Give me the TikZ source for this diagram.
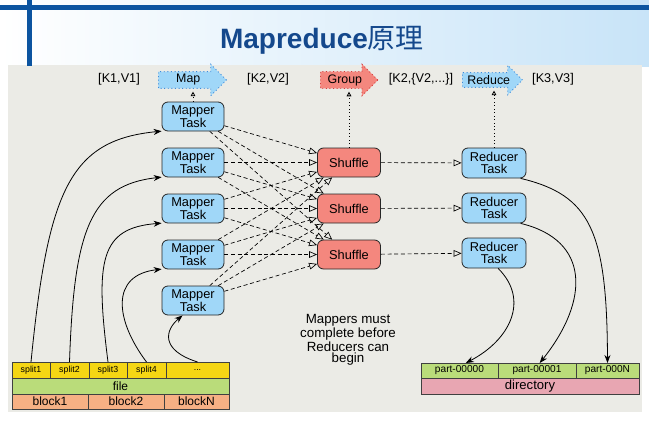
\documentclass[tikz,border=0pt]{standalone}
\usepackage{fontspec}
\setmainfont{Liberation Sans}
\newfontfamily\cjk{Noto Sans CJK SC}
\usepackage{tikz}
\usetikzlibrary{arrows.meta,positioning,shapes.arrows}

\definecolor{panelgray}{RGB}{235,235,230}
\definecolor{taskblue}{RGB}{160,215,248}
\definecolor{shufflered}{RGB}{244,135,126}
\definecolor{splityellow}{RGB}{245,214,20}
\definecolor{filegreen}{RGB}{186,220,122}
\definecolor{blockorange}{RGB}{246,176,132}
\definecolor{dirpink}{RGB}{232,166,178}
\definecolor{titleblue}{RGB}{20,72,140}
\definecolor{barblue}{RGB}{12,84,160}
\definecolor{headblue}{RGB}{200,228,248}

\tikzset{
  task/.style={draw=black!85, line width=0.6pt, rounded corners=4.5pt, fill=taskblue, align=center,
    font=\fontsize{9.6}{8.6}\selectfont, minimum width=46.5pt, minimum height=21.75pt, inner sep=0pt},
  shufflebox/.style={task, fill=shufflered, minimum width=47.25pt},
  cell/.style={draw=black!75, line width=0.5pt, inner sep=0pt, outer sep=0pt, minimum height=12pt},
  stagearrow/.style={single arrow, single arrow head extend=5.5pt, dotted, line width=0.7pt,
    inner xsep=1pt, inner ysep=1.8pt, font=\fontsize{9.3}{9.3}\selectfont, anchor=tail},
  flow/.style={-{Stealth[length=6pt,width=4.5pt]}, line width=0.6pt},
  dashflow/.style={-{Triangle[open,length=6pt,width=5pt]}, dash pattern=on 3pt off 2pt, line width=0.5pt},
  stageup/.style={-{Triangle[open,length=3.5pt,width=3.5pt]}, dotted, line width=0.6pt, shorten >=2pt},
  kv/.style={font=\fontsize{9.5}{9.5}\selectfont, inner sep=0.75pt},
}

\begin{document}
\begin{tikzpicture}[x=0.75pt,y=0.75pt,yscale=-1,xscale=1]
\useasboundingbox (0,0) rectangle (649,421);

%Background
\fill [white] (0,0) rectangle (649,421);
\shade [left color=white, right color=headblue] (0,0) rectangle (649,66);
\fill [panelgray] (8,65) rectangle (642,412);
\fill [barblue] (0,5) rectangle (649,10);
\fill [barblue] (27,0) rectangle (32,66);

% Title
\node [font=\fontsize{21}{21}\selectfont\bfseries, text=titleblue, inner sep=0pt] (title) at (322,40) {Mapreduce{\cjk\mdseries 原理}};

% Stages on top
\node [kv] (k1v1) at (119,79) {[K1,V1]};
\node [stagearrow, minimum height=51pt, fill=taskblue, draw={rgb,255:red,60;green,140;blue,220}] (map) at (158,80) {Map};
\node [kv] (k2v2) at (268,79) {[K2,V2]};
\node [stagearrow, minimum height=43pt, fill=shufflered, draw={rgb,255:red,215;green,60;blue,60}] (grp) at (320,80) {Group};
\node [kv] (k2list) at (421,79) {[K2,\{V2,...\}]};
\node [stagearrow, minimum height=45pt, fill=taskblue, draw={rgb,255:red,60;green,140;blue,220}] (red) at (462,80) {Reduce};
\node [kv] (k3v3) at (553,79) {[K3,V3]};

% Mapper Task
\foreach \i in {1,...,5}
  \node [task] (m\i) at (193,{116.5+46*(\i-1)}) {Mapper\\Task};

% Shuffle
\node [shufflebox] (s1) at (349,162.5) {Shuffle};
\node [shufflebox] (s2) at (349,208.5) {Shuffle};
\node [shufflebox] (s3) at (349,254.5) {Shuffle};

% Reducer Task
\node [task, minimum width=48pt, minimum height=22.5pt] (r1) at (494,163) {Reducer\\Task};
\node [task, minimum width=48pt, minimum height=22.5pt] (r2) at (494,208) {Reducer\\Task};
\node [task, minimum width=48pt, minimum height=22.5pt] (r3) at (494,253) {Reducer\\Task};

% dashed connectors
\foreach \i in {1,...,5}
  \foreach \j in {1,2,3}
    \draw [dashflow] (m\i) -- (s\j);
\foreach \j in {1,2,3}
  \draw [dashflow] (s\j) -- (r\j);

% dotted links up to the stages
\draw [stageup] (m1.north) -- (m1.north |- map.south);
\draw [stageup] (s1.north) -- (s1.north |- grp.south);
\draw [stageup] (r1.north) -- (r1.north |- red.south);

% Text Node
\node [align=center, font=\fontsize{10}{8.6}\selectfont] (note) at (348,340) {Mappers must\\complete before\\Reducers can\\begin};

% input file
\node [cell, fill=splityellow, minimum width=28.5pt, anchor=north west, font=\fontsize{6.6}{6.6}\selectfont] (sp1) at (12,362) {split1};
\node [cell, fill=splityellow, minimum width=29.25pt, right=0pt of sp1, font=\fontsize{6.6}{6.6}\selectfont] (sp2) {split2};
\node [cell, fill=splityellow, minimum width=28.5pt, right=0pt of sp2, font=\fontsize{6.6}{6.6}\selectfont] (sp3) {split3};
\node [cell, fill=splityellow, minimum width=29.25pt, right=0pt of sp3, font=\fontsize{6.6}{6.6}\selectfont] (sp4) {split4};
\node [cell, fill=splityellow, minimum width=47.25pt, right=0pt of sp4, font=\fontsize{6.6}{6.6}\selectfont] (spn) {...};
\node [cell, fill=filegreen, minimum width=162.75pt, below=0pt of sp1.south west, anchor=north west, font=\fontsize{9}{9}\selectfont] (file) {file};
\node [cell, fill=blockorange, minimum width=57pt, minimum height=11.25pt, below=0pt of file.south west, anchor=north west, font=\fontsize{9}{9}\selectfont] (b1) {block1};
\node [cell, fill=blockorange, minimum width=57pt, minimum height=11.25pt, right=0pt of b1, font=\fontsize{9}{9}\selectfont] (b2) {block2};
\node [cell, fill=blockorange, minimum width=48.75pt, minimum height=11.25pt, right=0pt of b2, font=\fontsize{9}{9}\selectfont] (bn) {blockN};

% output directory
\node [cell, fill=filegreen, minimum width=57.75pt, minimum height=11.25pt, anchor=north west, font=\fontsize{7.6}{7.6}\selectfont] (p0) at (421,363) {part-00000};
\node [cell, fill=filegreen, minimum width=58.5pt, minimum height=11.25pt, right=0pt of p0, font=\fontsize{7.6}{7.6}\selectfont] (p1) {part-00001};
\node [cell, fill=filegreen, minimum width=47.25pt, minimum height=11.25pt, right=0pt of p1, font=\fontsize{7.6}{7.6}\selectfont] (pn) {part-000N};
\node [cell, fill=dirpink, minimum width=163.5pt, below=0pt of p0.south west, anchor=north west, font=\fontsize{9.8}{9.8}\selectfont] (dir) {directory};

% splits to mappers
\draw [flow] (sp1.north) .. controls (48,190) and (70,140) .. (m1.205);
\draw [flow] (sp2.north) .. controls (74,230) and (90,185) .. (m2.205);
\draw [flow] (sp3.north) .. controls (95,260) and (100,228) .. (m3.205);
\draw [flow] (sp4.north) .. controls (115,320) and (110,275) .. (m4.205);
\draw [flow] (spn.north) .. controls (160,350) and (165,330) .. (m5.235);

% reducers to parts
\draw [flow] (r1.330) .. controls (590,195) and (607,230) .. (pn.north);
\draw [flow] (r2.330) .. controls (590,240) and (590,300) .. (p1.70);
\draw [flow] (r3.285) .. controls (530,300) and (510,340) .. (p0.50);

\end{tikzpicture}
\end{document}
